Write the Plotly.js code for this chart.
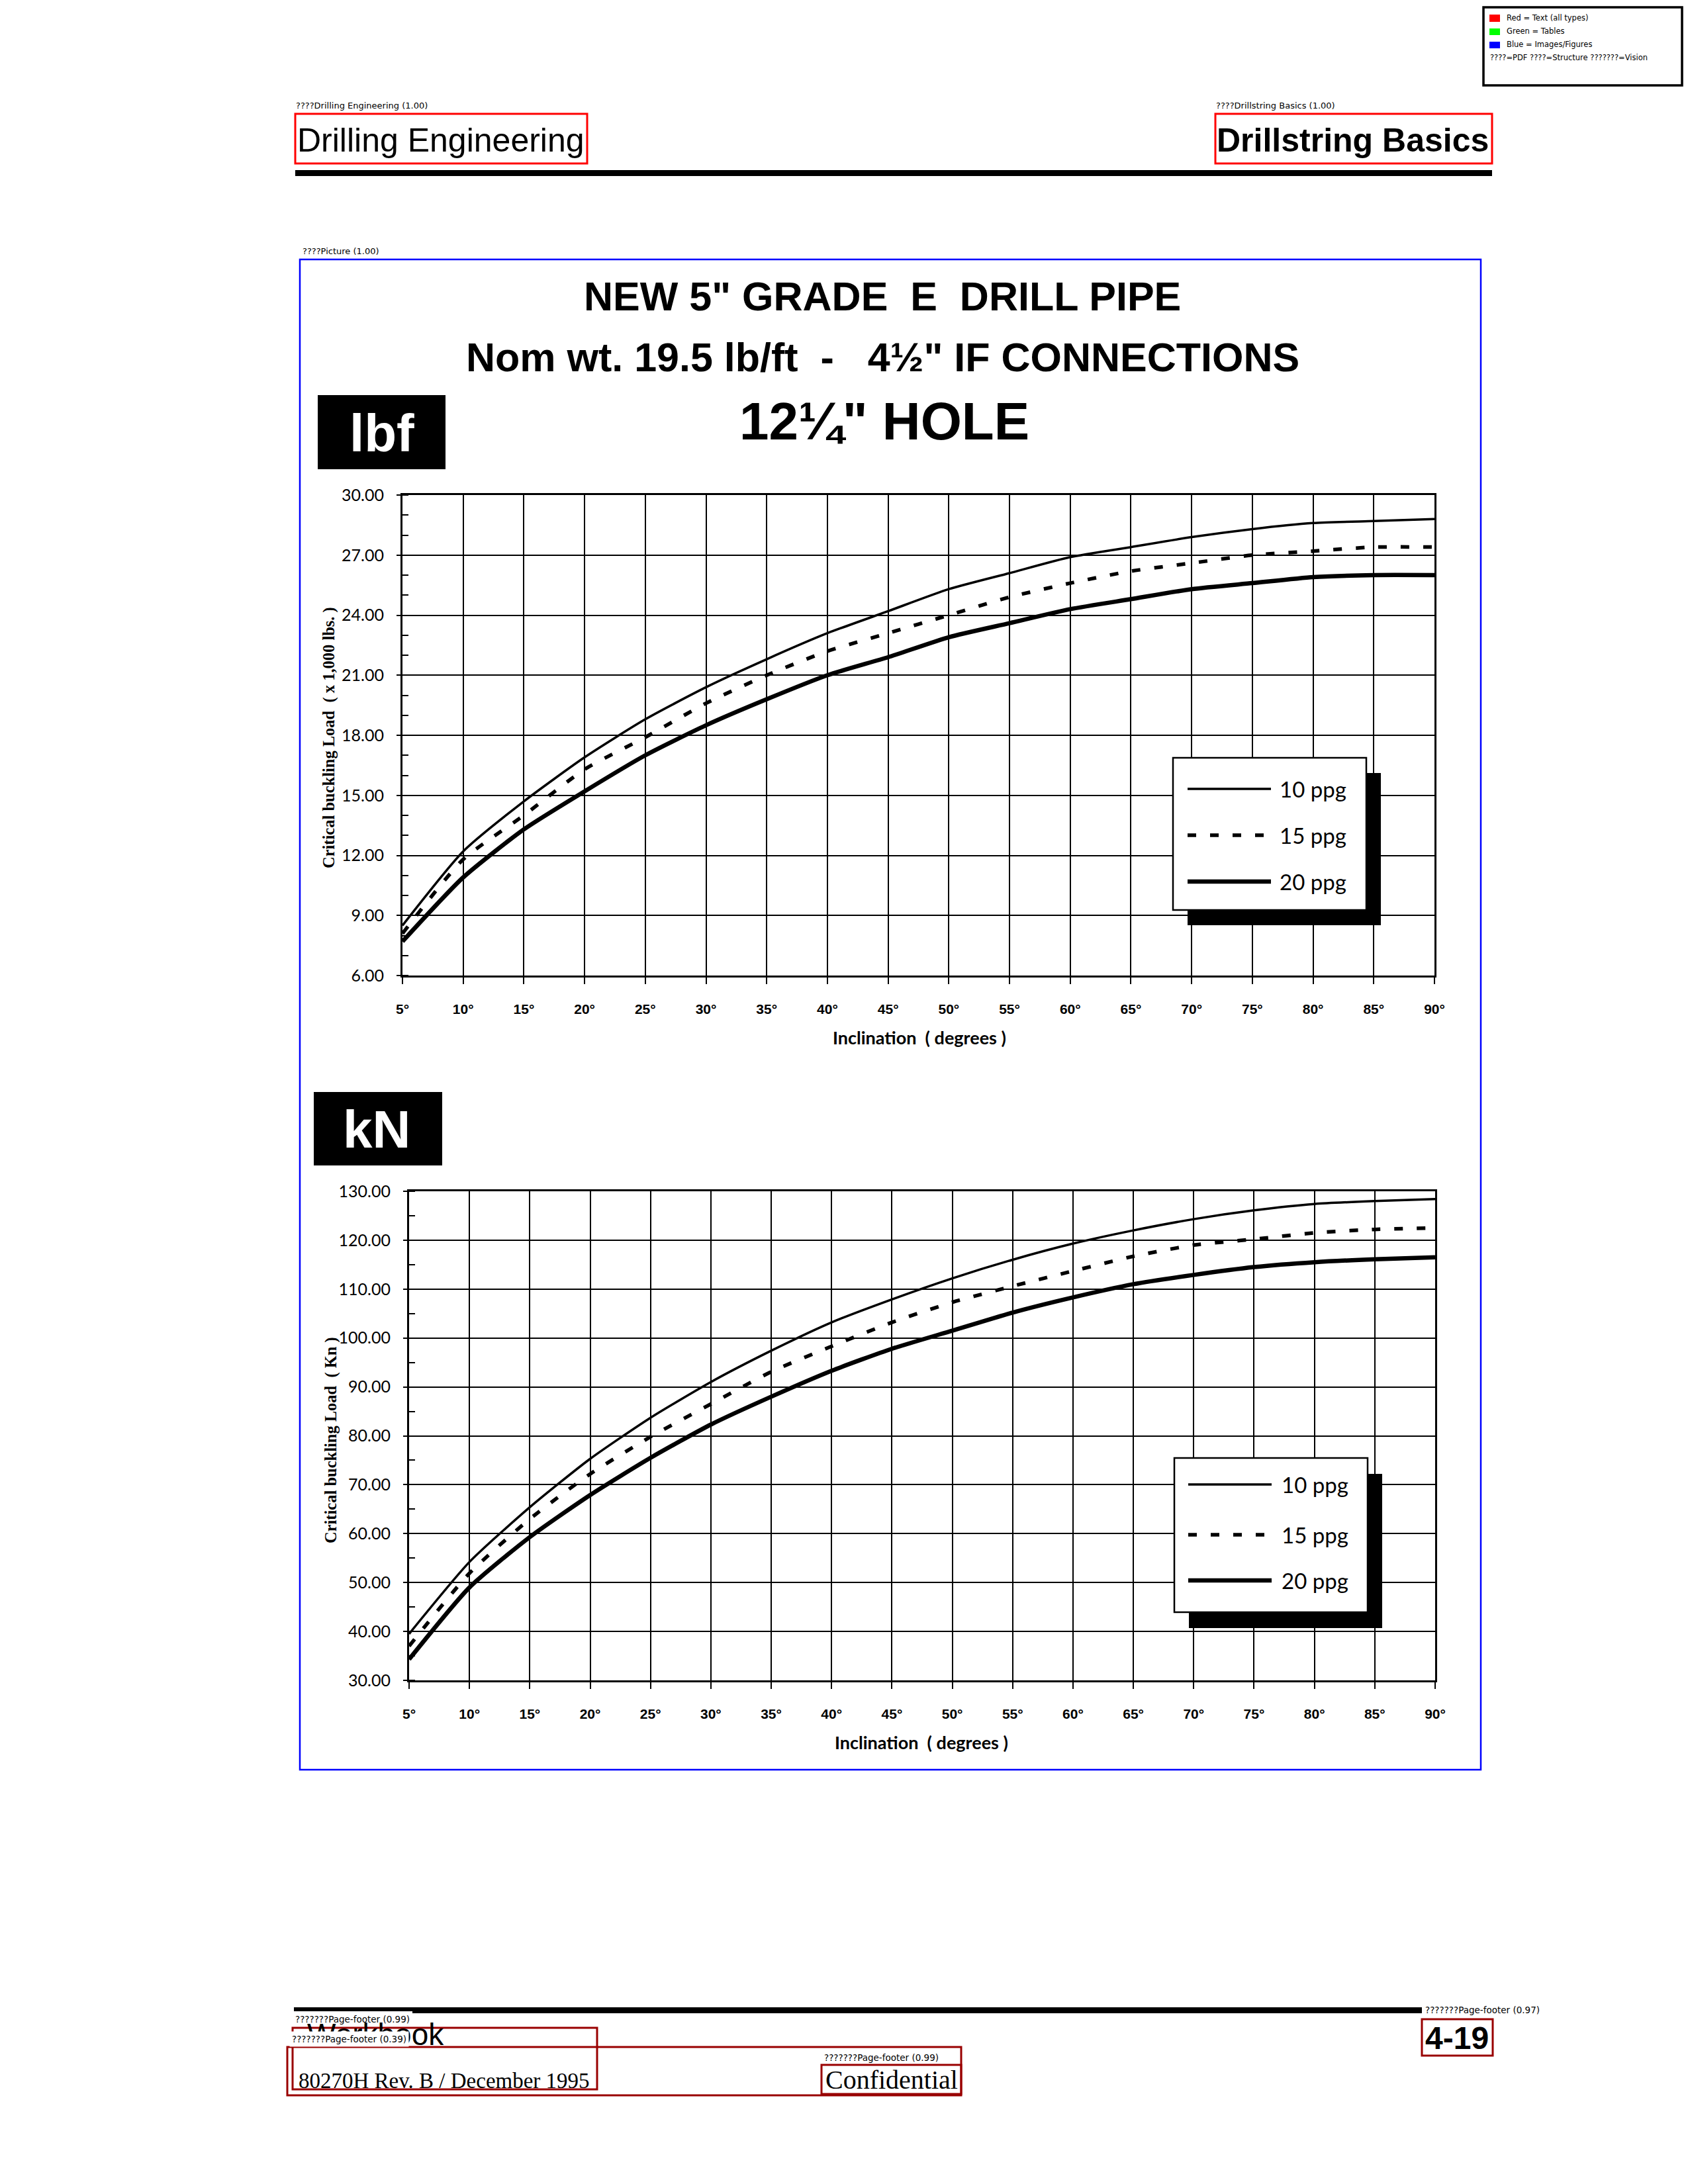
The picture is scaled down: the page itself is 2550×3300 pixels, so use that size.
<!DOCTYPE html>
<html><head><meta charset="utf-8">
<script src="https://cdn.plot.ly/plotly-3.0.1.min.js"></script>
<style>body{margin:0;background:#fff}#chart{width:2550px;height:3300px}</style>
</head><body><div id="chart"></div>
<script>
// ---------------- data ----------------
const inclination = [5,10,15,20,25,30,35,40,45,50,55,60,65,70,75,80,85,90];
const inclinationLabels = ['5°','10°','15°','20°','25°','30°','35°','40°','45°','50°','55°','60°','65°','70°','75°','80°','85°','90°'];
const seriesNames = ['10 ppg','15 ppg','20 ppg'];
// Critical buckling load (x 1,000 lbs)
const lbf10ppg = [8.5,12.2,14.7,16.9,18.8,20.4,21.8,23.1,24.2,25.3,26.1,26.9,27.4,27.9,28.3,28.6,28.7,28.8];
const lbf15ppg = [8.1,11.8,14.0,16.3,17.9,19.6,21.0,22.2,23.1,24.0,24.9,25.6,26.2,26.6,27.0,27.2,27.4,27.4];
const lbf20ppg = [7.7,10.9,13.3,15.2,17.0,18.5,19.8,21.0,21.9,22.9,23.6,24.3,24.8,25.3,25.6,25.9,26.0,26.0];
// Critical buckling load (kN)
const kn10ppg = [39.5,54.2,65.4,75.3,83.7,91.0,97.4,103.2,107.9,112.2,116.0,119.3,122.0,124.3,126.1,127.4,128.0,128.4];
const kn15ppg = [37.0,51.9,63.0,72.2,79.8,86.5,93.1,98.3,103.2,107.3,110.6,113.7,116.7,119.0,120.2,121.5,122.2,122.5];
const kn20ppg = [34.3,49.0,59.3,67.9,75.5,82.3,88.0,93.3,97.8,101.5,105.2,108.3,111.0,112.9,114.5,115.5,116.1,116.5];

// ---------------- helpers ----------------
const W = 2550, H = 3300;
const X = p => p / W, Y = p => 1 - p / H;
const SANS = 'Liberation Sans, Arial, sans-serif';
const SERIF = 'Liberation Serif, Times New Roman, serif';
const GEO = 'Lato, Open Sans, sans-serif';
const LABEL = 'DejaVu Sans, sans-serif';

function rect(x0, y0, x1, y1, line, fill, lw, layer) {
  return {type:'rect', xref:'paper', yref:'paper', x0:X(x0), x1:X(x1), y0:Y(y0), y1:Y(y1),
    line:{color:line || 'rgba(0,0,0,0)', width: lw || 0}, fillcolor: fill || 'rgba(0,0,0,0)', layer: layer || 'above'};
}
function hline(x0, x1, y, width, dash) {
  return {type:'line', xref:'paper', yref:'paper', x0:X(x0), x1:X(x1), y0:Y(y), y1:Y(y),
    line:{color:'#000', width:width, dash:dash || 'solid'}, layer:'above'};
}
function txt(text, x, y, size, o) {
  o = o || {};
  return {xref:'paper', yref:'paper', x:X(x), y:Y(y), text:text, showarrow:false,
    xanchor:o.xanchor || 'center', yanchor:'middle', textangle:o.angle || 0,
    bgcolor:o.bg || 'rgba(0,0,0,0)', borderpad:o.pad === undefined ? 0 : o.pad,
    font:{family:o.family || SANS, size:size, color:o.color || '#000', weight:o.weight || 'normal'}};
}

const lineWidths = [3.5, 5.5, 6.5];
const lineDashes = ['solid', '13px,21px', 'solid'];
function curve(y, i, xa, ya) {
  return {type:'scatter', mode:'lines', x:inclination, y:y, xaxis:xa, yaxis:ya, name:seriesNames[i],
    line:{color:'#000', width:lineWidths[i], dash:lineDashes[i], shape:'spline', smoothing:0.6},
    hoverinfo:'skip', showlegend:false};
}

const traces = [
  curve(lbf10ppg, 0, 'x', 'y'), curve(lbf15ppg, 1, 'x', 'y'), curve(lbf20ppg, 2, 'x', 'y'),
  curve(kn10ppg, 0, 'x2', 'y2'), curve(kn15ppg, 1, 'x2', 'y2'), curve(kn20ppg, 2, 'x2', 'y2')
];

function xAxis(x0, x1, anchor) {
  return {domain:[X(x0), X(x1)], anchor:anchor, range:[5, 90], tickmode:'array',
    tickvals:inclination, ticktext:inclinationLabels, showgrid:true, gridcolor:'#000', gridwidth:2,
    ticks:'outside', ticklen:10, tickwidth:2, tickcolor:'#000', showline:true, linecolor:'#000',
    linewidth:3, mirror:true, zeroline:false, ticklabelstandoff:20, fixedrange:true,
    tickfont:{family:SANS, size:21, color:'#000', weight:'bold'}};
}
function yAxis(top, bottom, anchor, range, dtick, minor) {
  return {domain:[Y(bottom), Y(top)], anchor:anchor, range:range, tick0:0, dtick:dtick,
    tickformat:'.2f', showgrid:true, gridcolor:'#000', gridwidth:2, ticks:'outside', ticklen:6,
    tickwidth:2, tickcolor:'#000', showline:true, linecolor:'#000', linewidth:3, mirror:true,
    zeroline:false, ticklabelstandoff:14, fixedrange:true,
    tickfont:{family:GEO, size:25, color:'#000'},
    minor:{dtick:minor, ticks:'inside', ticklen:9, tickwidth:2, tickcolor:'#000', showgrid:false}};
}

// ---------------- page decoration ----------------
const shapes = [
  // top-right key box
  rect(2241, 11, 2541, 129, '#000', '#fff', 3.5),
  rect(2250, 22, 2266, 33, null, '#ff0000'),
  rect(2250, 43, 2266, 53, null, '#00ff00'),
  rect(2250, 63, 2266, 73, null, '#0000ff'),
  // header boxes and rule
  rect(446, 172, 887, 247, '#ff0000', null, 3),
  rect(1836, 172, 2254, 247, '#ff0000', null, 3),
  rect(446, 257, 2254, 266, null, '#000'),
  // picture box
  rect(453, 392, 2237, 2674, '#0000ff', null, 2.5),
  // unit tags
  rect(480, 597, 673, 709, null, '#000'),
  rect(474, 1650, 668, 1761, null, '#000'),
  // footer rule and boxes
  rect(444, 3033, 623, 3039, null, '#000'),
  rect(623, 3033, 2148, 3042, null, '#000'),
  rect(442, 3064, 902, 3157, '#990000', null, 3),
  rect(434, 3093, 1452, 3166, '#990000', null, 3),
  rect(1241, 3120, 1452, 3164, '#990000', null, 3),
  rect(2148, 3051, 2255, 3106, '#990000', null, 3)
];

const annotations = [
  txt('Red = Text (all types)', 2275, 27, 11.5, {xanchor:'left', family:LABEL}),
  txt('Green = Tables', 2275, 47, 11.5, {xanchor:'left', family:LABEL}),
  txt('Blue = Images/Figures', 2275, 67, 11.5, {xanchor:'left', family:LABEL}),
  txt('????=PDF ????=Structure ???????=Vision', 2250, 87, 11.5, {xanchor:'left', family:LABEL}),
  txt('????Drilling Engineering (1.00)', 446, 159, 13, {xanchor:'left', family:LABEL, bg:'#fff'}),
  txt('????Drillstring Basics (1.00)', 1836, 159, 13, {xanchor:'left', family:LABEL, bg:'#fff'}),
  txt('Drilling Engineering', 666, 212, 50),
  txt('Drillstring Basics', 2044, 212, 50, {weight:'bold'}),
  txt('????Picture (1.00)', 456, 379, 13, {xanchor:'left', family:LABEL}),
  txt('NEW 5" GRADE\u00a0\u00a0E\u00a0\u00a0DRILL PIPE', 1333, 448, 61, {weight:'bold'}),
  txt('Nom wt. 19.5 lb/ft\u00a0\u00a0-\u00a0\u00a0\u00a04½" IF CONNECTIONS', 1333, 540, 61, {weight:'bold'}),
  txt('12¼" HOLE', 1336, 636, 80, {weight:'bold'}),
  txt('lbf', 577, 654, 80, {weight:'bold', color:'#fff'}),
  txt('kN', 569, 1707, 80, {weight:'bold', color:'#fff'}),
  // axis titles
  txt('Critical buckling Load\u00a0\u00a0( x 1,000 lbs. )', 497, 1115, 24.5, {angle:-90, family:SERIF, weight:'bold'}),
  txt('Inclination\u00a0\u00a0( degrees )', 1389, 1567, 27, {family:GEO, weight:'bold'}),
  txt('Critical buckling Load\u00a0\u00a0( Kn )', 500, 2176, 24.5, {angle:-90, family:SERIF, weight:'bold'}),
  txt('Inclination\u00a0\u00a0( degrees )', 1392, 2632, 27, {family:GEO, weight:'bold'}),
  // footer
  txt('???????Page-footer (0.97)', 2152, 3037, 13.5, {xanchor:'left', family:LABEL, bg:'#fff'}),
  txt('???????Page-footer (0.99)', 445, 3051, 13.5, {xanchor:'left', family:LABEL, bg:'#fff'}),
  txt('Workbook', 672, 3074, 46, {xanchor:'right'}),
  txt('???????Page-footer (0.39)', 437, 3081, 13.5, {xanchor:'left', family:LABEL, bg:'#fff', pad:3}),
  txt('???????Page-footer (0.99)', 1244, 3109, 13.5, {xanchor:'left', family:LABEL, bg:'#fff'}),
  txt('80270H Rev. B / December 1995', 450, 3144, 33, {xanchor:'left', family:SERIF}),
  txt('Confidential', 1347, 3142, 40, {family:SERIF}),
  txt('4-19', 2201, 3079, 48, {weight:'bold'})
];

// legends for both charts (shadowed box)
function legend(bx0, by0, bx1, by1, off, rowsY, lx0, lx1, tx) {
  shapes.push(rect(bx0 + off[0], by0 + off[1], bx1 + off[0], by1 + off[1], null, '#000'));
  shapes.push(rect(bx0, by0, bx1, by1, '#000', '#fff', 2.5));
  rowsY.forEach((ry, i) => {
    shapes.push(hline(lx0, lx1, ry, lineWidths[i], lineDashes[i]));
    annotations.push(txt(seriesNames[i], tx, ry, 33, {xanchor:'left', family:GEO}));
  });
}
legend(1772, 1145, 2064, 1375, [22, 23], [1192, 1262, 1332], 1794, 1920, 1932);
legend(1774, 2203, 2066, 2436, [22, 24], [2243, 2319, 2388], 1795, 1921, 1935);

const layout = {
  width:W, height:H, margin:{l:0, r:0, t:0, b:0}, paper_bgcolor:'#fff', plot_bgcolor:'#fff',
  showlegend:false,
  xaxis: xAxis(608, 2167, 'y'),
  yaxis: yAxis(748, 1474, 'x', [6, 30], 3, 1),
  xaxis2: xAxis(618, 2168, 'y2'),
  yaxis2: yAxis(1800, 2539, 'x2', [30, 130], 10, 5),
  shapes: shapes,
  annotations: annotations
};

Plotly.newPlot('chart', traces, layout, {displayModeBar:false, staticPlot:true});
</script></body></html>
